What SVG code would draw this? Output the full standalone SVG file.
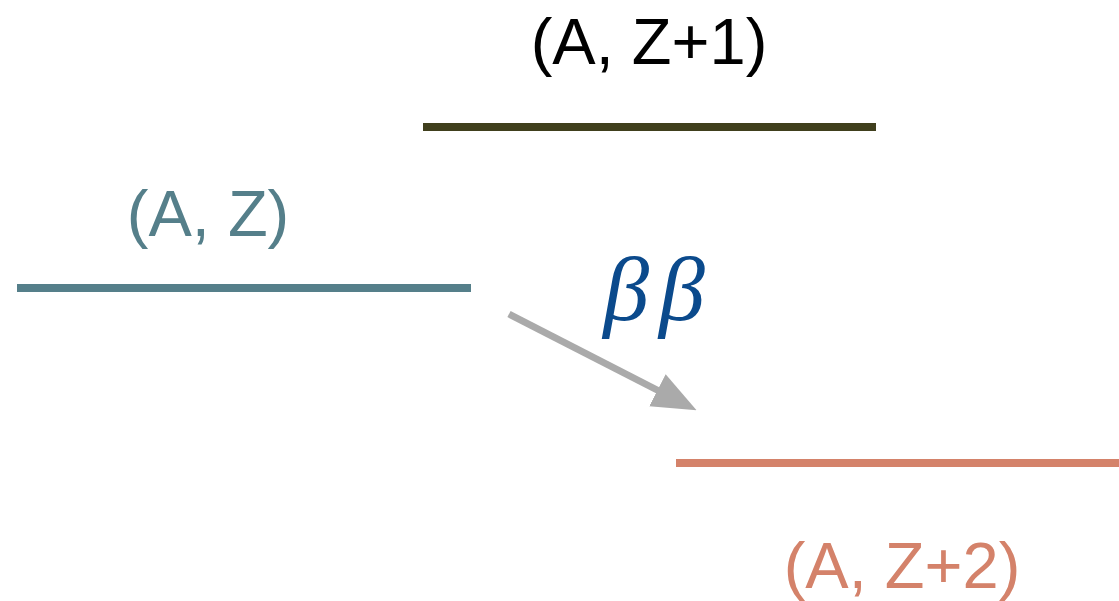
<svg xmlns="http://www.w3.org/2000/svg" width="1119" height="601" viewBox="0 0 1119 601">
<style>
.lbl{font-family:"Liberation Sans",Arial,sans-serif;font-size:65px;text-anchor:middle}
.lvl{stroke-width:8;fill:none}
</style>
<defs>
<marker id="ah" markerUnits="userSpaceOnUse" markerWidth="44" markerHeight="40" viewBox="0 0 44 36" refX="4" refY="18" orient="auto">
<path d="M0,0 L44,18 L0,36 Z" fill="#aaaaaa"/>
</marker>
</defs>
<rect width="1119" height="601" fill="#ffffff"/>
<g id="level-z1">
<line class="lvl" x1="423" y1="127" x2="876" y2="127" stroke="#403f1d"/>
<text class="lbl" x="649" y="64" fill="#000000">(A, Z+1)</text>
</g>
<g id="level-z">
<line class="lvl" x1="17" y1="288" x2="471" y2="288" stroke="#557f8a"/>
<text class="lbl" x="208" y="236" fill="#557f8a">(A, Z)</text>
</g>
<g id="level-z2">
<line class="lvl" x1="676" y1="463" x2="1119" y2="463" stroke="#d4826a"/>
<text class="lbl" x="902" y="588" fill="#d4826a">(A, Z+2)</text>
</g>
<g id="connectors">
<line x1="509" y1="314" x2="661" y2="392" stroke="#aaaaaa" stroke-width="7" marker-end="url(#ah)"/>
<text x="659" y="320" font-family="'Liberation Serif','Times New Roman',serif" font-style="italic" font-size="92" letter-spacing="10" fill="#0b4a8c" text-anchor="middle">ββ</text>
</g>
</svg>
